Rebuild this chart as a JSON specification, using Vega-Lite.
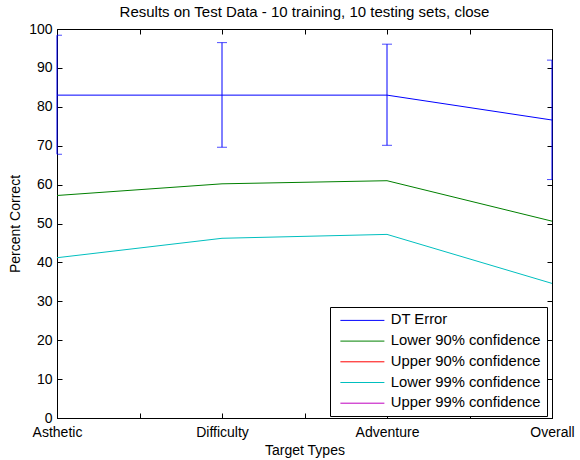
{
  "$schema": "https://vega.github.io/schema/vega-lite/v6.json",
  "width": 495,
  "height": 389,
  "autosize": {"type": "none"},
  "padding": {"left": 57, "top": 29, "right": 28, "bottom": 42},
  "background": "white",
  "config": {
    "font": "Liberation Sans",
    "view": {"stroke": "black", "strokeWidth": 1},
    "axis": {
      "domainColor": "black",
      "tickColor": "black",
      "labelColor": "black",
      "titleColor": "black",
      "labelFontSize": 14,
      "titleFontSize": 14,
      "titleFontWeight": "normal",
      "grid": false
    }
  },
  "title": {
    "text": "Results on Test Data - 10 training, 10 testing sets, close",
    "fontSize": 15,
    "fontWeight": "normal",
    "color": "black",
    "offset": 2
  },
  "datasets": {
    "lines": [
      {"idx": 1, "target": "Asthetic", "series": "DT Error", "value": 83.0},
      {"idx": 2, "target": "Difficulty", "series": "DT Error", "value": 83.0},
      {"idx": 3, "target": "Adventure", "series": "DT Error", "value": 83.0},
      {"idx": 4, "target": "Overall", "series": "DT Error", "value": 76.6},
      {"idx": 1, "target": "Asthetic", "series": "Lower 90% confidence", "value": 57.2},
      {"idx": 2, "target": "Difficulty", "series": "Lower 90% confidence", "value": 60.2},
      {"idx": 3, "target": "Adventure", "series": "Lower 90% confidence", "value": 61.0},
      {"idx": 4, "target": "Overall", "series": "Lower 90% confidence", "value": 50.6},
      {"idx": 1, "target": "Asthetic", "series": "Lower 99% confidence", "value": 41.2},
      {"idx": 2, "target": "Difficulty", "series": "Lower 99% confidence", "value": 46.2},
      {"idx": 3, "target": "Adventure", "series": "Lower 99% confidence", "value": 47.2},
      {"idx": 4, "target": "Overall", "series": "Lower 99% confidence", "value": 34.6}
    ],
    "err": [
      {"idx": 1, "target": "Asthetic", "lo": 67.8, "hi": 98.4},
      {"idx": 2, "target": "Difficulty", "lo": 69.6, "hi": 96.5},
      {"idx": 3, "target": "Adventure", "lo": 70.1, "hi": 96.1},
      {"idx": 4, "target": "Overall", "lo": 61.3, "hi": 92.0}
    ]
  },
  "layer": [
    {
      "data": {"name": "lines"},
      "mark": {"type": "line", "strokeWidth": 1},
      "encoding": {
        "x": {
          "field": "idx",
          "type": "quantitative",
          "scale": {"domain": [1, 4], "nice": false, "zero": false},
          "axis": {
            "orient": "bottom",
            "title": "Target Types",
            "values": [1, 1.5, 2, 2.5, 3, 3.5, 4],
            "labelExpr": "datum.value == 1 ? 'Asthetic' : datum.value == 2 ? 'Difficulty' : datum.value == 3 ? 'Adventure' : datum.value == 4 ? 'Overall' : ''",
            "tickSize": -5,
            "labelPadding": 12,
            "labelFlush": false,
            "labelOverlap": false,
            "labelBound": false,
            "titlePadding": 4
          }
        },
        "y": {
          "field": "value",
          "type": "quantitative",
          "scale": {"domain": [0, 100], "nice": false},
          "axis": {
            "orient": "left",
            "title": "Percent Correct",
            "values": [0, 10, 20, 30, 40, 50, 60, 70, 80, 90, 100],
            "tickSize": -5,
            "labelPadding": 10,
            "labelFlush": false,
            "labelOverlap": false,
            "titlePadding": 6
          }
        },
        "color": {
          "field": "series",
          "type": "nominal",
          "scale": {
            "domain": ["DT Error", "Lower 90% confidence", "Upper 90% confidence", "Lower 99% confidence", "Upper 99% confidence"],
            "range": ["#0000ff", "#008000", "#ff0000", "#00bfbf", "#bf00bf"]
          },
          "legend": {
            "orient": "none",
            "legendX": 273,
            "legendY": 278,
            "title": null,
            "fillColor": "white",
            "strokeColor": "black",
            "padding": 6,
            "symbolType": "M-22,0H22",
            "symbolSize": 4,
            "symbolOffset": 19,
            "symbolStrokeWidth": 1,
            "labelFontSize": 14.8,
            "labelColor": "black",
            "labelOffset": 21,
            "rowPadding": 4.7,
            "encode": {
              "symbols": {
                "enter": {"stroke": {"scale": "color", "field": "value"}},
                "update": {"stroke": {"scale": "color", "field": "value"}, "strokeOpacity": {"value": 1}}
              }
            }
          }
        }
      }
    },
    {
      "data": {"name": "err"},
      "mark": {"type": "rule", "color": "#0000ff", "strokeWidth": 1},
      "encoding": {
        "x": {
          "field": "idx",
          "type": "quantitative",
          "axis": {
            "orient": "top",
            "title": null,
            "values": [1, 1.5, 2, 2.5, 3, 3.5, 4],
            "labels": false,
            "tickSize": -5,
            "domain": false
          }
        },
        "y": {
          "field": "lo",
          "type": "quantitative",
          "axis": {
            "orient": "right",
            "title": null,
            "values": [0, 10, 20, 30, 40, 50, 60, 70, 80, 90, 100],
            "labels": false,
            "tickSize": -5,
            "domain": false
          }
        },
        "y2": {"field": "hi"}
      }
    },
    {
      "data": {"name": "err"},
      "mark": {"type": "tick", "orient": "horizontal", "color": "#0000ff", "size": 10, "thickness": 1, "clip": true},
      "encoding": {
        "x": {"field": "idx", "type": "quantitative", "axis": null},
        "y": {"field": "lo", "type": "quantitative", "axis": null}
      }
    },
    {
      "data": {"name": "err"},
      "mark": {"type": "tick", "orient": "horizontal", "color": "#0000ff", "size": 10, "thickness": 1, "clip": true},
      "encoding": {
        "x": {"field": "idx", "type": "quantitative", "axis": null},
        "y": {"field": "hi", "type": "quantitative", "axis": null}
      }
    }
  ]
}
